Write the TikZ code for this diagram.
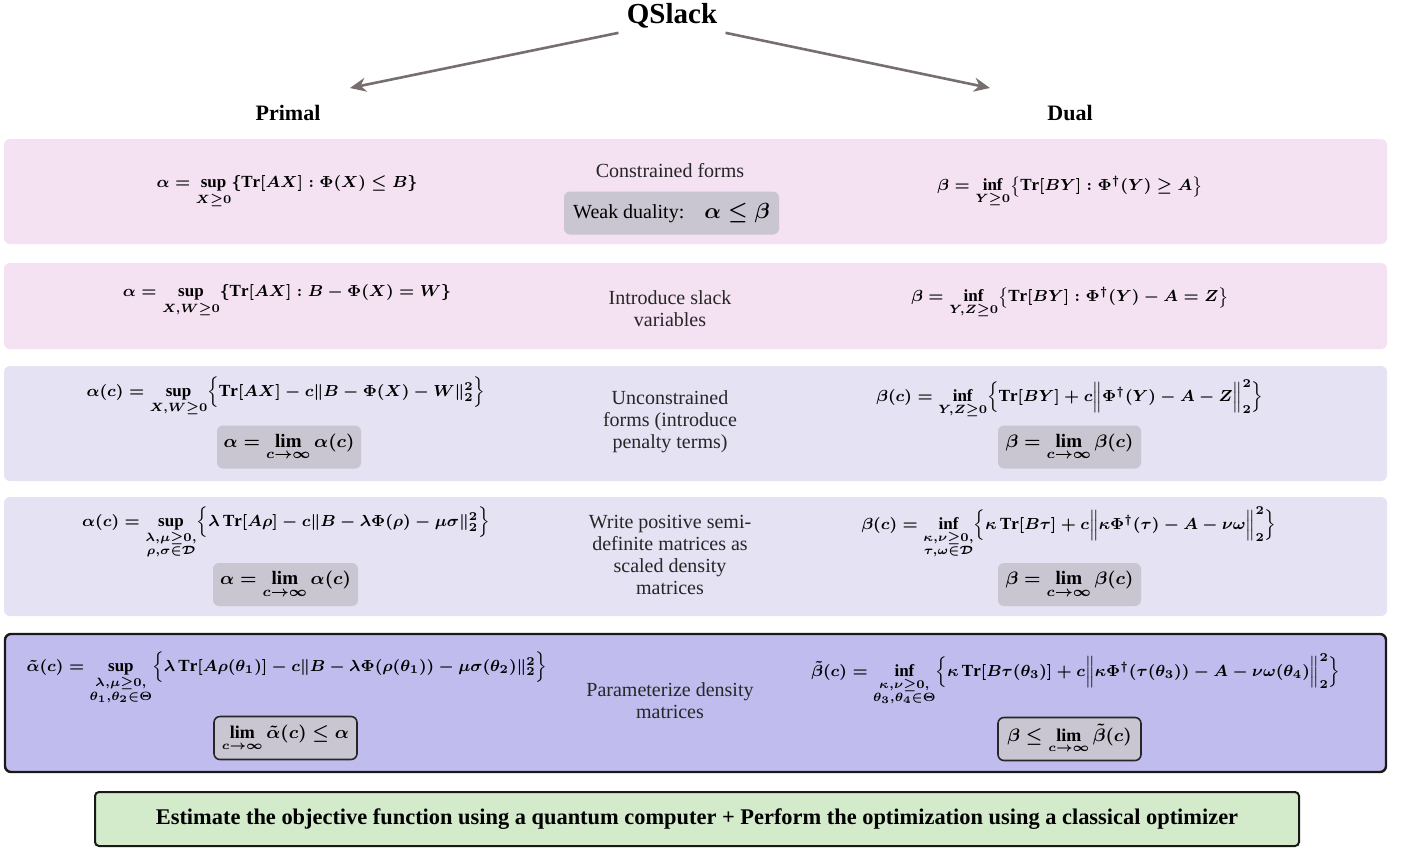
\documentclass[tikz,border=0pt]{standalone}
\usepackage{amsmath,amssymb}
\usepackage{fontspec}
\setmainfont{Liberation Serif}
\usepackage{xcolor}
\usetikzlibrary{arrows.meta,positioning}
\definecolor{pinkrow}{HTML}{F4E1F2}
\definecolor{lavrow}{HTML}{E4E2F3}
\definecolor{purprow}{HTML}{C0BDEE}
\definecolor{greybox}{HTML}{C9C6D1}
\definecolor{greenrow}{HTML}{D3EBCB}
\definecolor{arrowgrey}{HTML}{776E6E}
\tikzset{
  fml/.style={font=\boldmath\fontsize{8.5}{10}\selectfont, inner sep=0pt},
  midtext/.style={font=\fontsize{10}{11}\selectfont, align=center, text=black!85},
  limbox/.style={fill=greybox, rounded corners=3pt, minimum height=21.5pt, font=\boldmath\fontsize{9.5}{11}\selectfont, inner sep=0pt},
  limboxdark/.style={limbox, draw=black!85, line width=0.8pt, font=\boldmath\fontsize{9}{11}\selectfont},
  arr/.style={-{Stealth[length=8pt,width=7pt]}, line width=1.3pt, draw=arrowgrey}
}
\begin{document}
\begin{tikzpicture}[x=0.5pt,y=-0.5pt]
  \useasboundingbox (0,0) rectangle (1403,848);
  % rows
  \fill[pinkrow,rounded corners=3pt] (4,139) rectangle (1387,244);
  \fill[pinkrow,rounded corners=3pt] (4,263) rectangle (1387,349);
  \fill[lavrow,rounded corners=3pt] (4,366) rectangle (1387,481);
  \fill[lavrow,rounded corners=3pt] (4,497) rectangle (1387,616);
  \draw[fill=purprow,draw=black!90,line width=1.2pt,rounded corners=3pt] (5,634) rectangle (1386,772);
  % header
  \node[font=\bfseries\fontsize{14.5}{17}\selectfont, inner sep=1pt] (title) at (672,16) {QSlack};
  \node[font=\bfseries\fontsize{11}{13}\selectfont] (primal) at (288,113) {Primal};
  \node[font=\bfseries\fontsize{11}{13}\selectfont] (dual) at (1070,113) {Dual};
  \coordinate (pend) at (350,88);
  \coordinate (dend) at (990,88);
  \draw[arr] ([xshift=-3pt,yshift=-1pt]title.south west) -- (pend);
  \draw[arr] ([xshift=3pt,yshift=-1pt]title.south east) -- (dend);
  % constrained forms
  \node[fml] (p1) at (287,192) {$\alpha = \sup\limits_{X\geq 0}\{\mathrm{Tr}[AX] : \Phi(X) \leq B\}$};
  \node[fml] (d1) at (1070,192) {$\beta = \inf\limits_{Y\geq 0}\bigl\{\mathrm{Tr}[BY] : \Phi^{\dagger}(Y) \geq A\bigr\}$};
  \node[midtext] (m1) at (670,171) {Constrained forms};
  \node[limbox, minimum width=107.5pt, font=\fontsize{10}{12}\selectfont] (weak) at (671.5,213) {Weak duality:\quad{\boldmath\fontsize{11}{13}\selectfont$\alpha \leq \beta$}};
  % slack variables
  \node[fml] (p2) at (287,301) {$\alpha = \sup\limits_{X,W\geq 0}\{\mathrm{Tr}[AX] : B - \Phi(X) = W\}$};
  \node[fml] (d2) at (1070,303) {$\beta = \inf\limits_{Y,Z\geq 0}\bigl\{\mathrm{Tr}[BY] : \Phi^{\dagger}(Y) - A = Z\bigr\}$};
  \node[midtext] (m2) at (670,309) {Introduce slack\\variables};
  % penalty terms
  \node[fml] (p3) at (286,397) {$\alpha(c) = \sup\limits_{X,W\geq 0}\Bigl\{\mathrm{Tr}[AX] - c\|B - \Phi(X) - W\|_2^2\Bigr\}$};
  \node[fml] (d3) at (1070,399) {$\beta(c) = \inf\limits_{Y,Z\geq 0}\Bigl\{\mathrm{Tr}[BY] + c\Bigl\|\Phi^{\dagger}(Y) - A - Z\Bigr\|_2^2\Bigr\}$};
  \node[midtext] (m3) at (670,422) {Unconstrained\\forms (introduce\\penalty terms)};
  \node[limbox, minimum width=72pt] (pl3) at (289,447) {$\alpha = \lim\limits_{c\to\infty}\alpha(c)$};
  \node[limbox, minimum width=71.5pt] (dl3) at (1069.5,447) {$\beta = \lim\limits_{c\to\infty}\beta(c)$};
  % density matrices
  \node[fml] (p4) at (286,533) {$\alpha(c) = \sup\limits_{\substack{\lambda,\mu\geq 0,\\ \rho,\sigma\in\mathcal{D}}}\Bigl\{\lambda\,\mathrm{Tr}[A\rho] - c\|B - \lambda\Phi(\rho) - \mu\sigma\|_2^2\Bigr\}$};
  \node[fml] (d4) at (1069,533) {$\beta(c) = \inf\limits_{\substack{\kappa,\nu\geq 0,\\ \tau,\omega\in\mathcal{D}}}\Bigl\{\kappa\,\mathrm{Tr}[B\tau] + c\Bigl\|\kappa\Phi^{\dagger}(\tau) - A - \nu\omega\Bigr\|_2^2\Bigr\}$};
  \node[midtext] (m4) at (670,555) {Write positive semi-\\definite matrices as\\scaled density\\matrices};
  \node[limbox, minimum width=72.5pt] (pl4) at (285.5,584.5) {$\alpha = \lim\limits_{c\to\infty}\alpha(c)$};
  \node[limbox, minimum width=71.5pt] (dl4) at (1069.5,584.5) {$\beta = \lim\limits_{c\to\infty}\beta(c)$};
  % parameterized
  \node[fml] (p5) at (287,678) {$\tilde{\alpha}(c) = \sup\limits_{\substack{\lambda,\mu\geq 0,\\ \theta_1,\theta_2\in\Theta}}\Bigl\{\lambda\,\mathrm{Tr}[A\rho(\theta_1)] - c\|B - \lambda\Phi(\rho(\theta_1)) - \mu\sigma(\theta_2)\|_2^2\Bigr\}$};
  \node[fml] (d5) at (1076,680) {$\tilde{\beta}(c) = \inf\limits_{\substack{\kappa,\nu\geq 0,\\ \theta_3,\theta_4\in\Theta}}\Bigl\{\kappa\,\mathrm{Tr}[B\tau(\theta_3)] + c\Bigl\|\kappa\Phi^{\dagger}(\tau(\theta_3)) - A - \nu\omega(\theta_4)\Bigr\|_2^2\Bigr\}$};
  \node[midtext] (m5) at (670,701) {Parameterize density\\matrices};
  \node[limboxdark, minimum width=71.5pt] (pl5) at (285.5,738) {$\lim\limits_{c\to\infty}\tilde{\alpha}(c) \leq \alpha$};
  \node[limboxdark, minimum width=71.5pt] (dl5) at (1069.5,739) {$\beta \leq \lim\limits_{c\to\infty}\tilde{\beta}(c)$};
  % bottom
  \draw[fill=greenrow,draw=black!90,line width=1pt,rounded corners=2pt] (95,792) rectangle (1299,846);
  \node[font=\bfseries\fontsize{11.2}{13}\selectfont] (est) at (697,819) {Estimate the objective function using a quantum computer + Perform the optimization using a classical optimizer};
\end{tikzpicture}
\end{document}
